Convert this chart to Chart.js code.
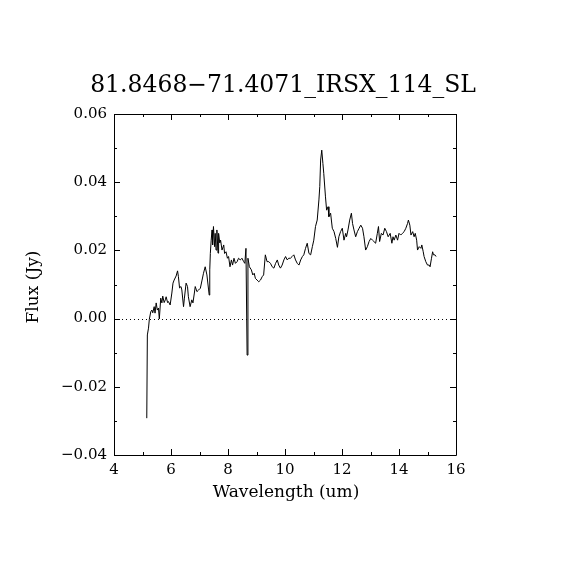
<!DOCTYPE html>
<html>
<head>
<meta charset="utf-8">
<script src="https://cdn.jsdelivr.net/npm/chart.js@4/dist/chart.umd.min.js"></script>
<style>
  body { margin: 0; background: #fff; }
  canvas { display: block; }
</style>
</head>
<body>
<canvas id="spec" width="570" height="570"></canvas>
<script>
const title = "81.8468\u221271.4071_IRSX_114_SL";
const xLabel = "Wavelength (um)";
const yLabel = "Flux (Jy)";

// spectrum
const wavelength = [
  5.15, 5.17, 5.21, 5.24, 5.29, 5.33, 5.36, 5.41, 5.44, 5.48,
  5.52, 5.56, 5.59, 5.64, 5.68, 5.71, 5.76, 5.80, 5.83, 5.88,
  5.91, 5.97, 6.03, 6.07, 6.11, 6.18, 6.23, 6.26, 6.30, 6.35,
  6.38, 6.44, 6.47, 6.53, 6.58, 6.61, 6.67, 6.73, 6.77, 6.82,
  6.85, 6.91, 6.97, 7.03, 7.09, 7.14, 7.20, 7.26, 7.32, 7.34,
  7.36, 7.38, 7.41, 7.44, 7.46, 7.49, 7.53, 7.55, 7.58, 7.61,
  7.65, 7.67, 7.71, 7.74, 7.79, 7.85, 7.88, 7.93, 7.98, 8.02,
  8.07, 8.12, 8.16, 8.21, 8.26, 8.32, 8.37, 8.43, 8.49, 8.55,
  8.59, 8.63, 8.67, 8.70, 8.75, 8.82, 8.87, 8.92, 8.96, 9.02,
  9.08, 9.14, 9.20, 9.25, 9.31, 9.37, 9.43, 9.49, 9.55, 9.61,
  9.67, 9.73, 9.78, 9.84, 9.90, 9.96, 10.02, 10.08, 10.13, 10.19,
  10.25, 10.31, 10.37, 10.43, 10.49, 10.55, 10.61, 10.66, 10.72, 10.78,
  10.84, 10.90, 10.96, 11.01, 11.07, 11.13, 11.19, 11.22, 11.25, 11.29,
  11.33, 11.36, 11.42, 11.46, 11.51, 11.54, 11.60, 11.66, 11.72, 11.78,
  11.84, 11.89, 11.95, 12.01, 12.07, 12.13, 12.16, 12.21, 12.27, 12.33,
  12.37, 12.42, 12.48, 12.54, 12.60, 12.66, 12.72, 12.77, 12.83, 12.89,
  12.95, 13.01, 13.07, 13.12, 13.18, 13.24, 13.28, 13.32, 13.38, 13.44,
  13.50, 13.56, 13.62, 13.69, 13.75, 13.79, 13.83, 13.89, 13.95, 14.00,
  14.06, 14.12, 14.18, 14.24, 14.30, 14.33, 14.38, 14.42, 14.48, 14.53,
  14.57, 14.62, 14.65, 14.71, 14.77, 14.80, 14.85, 14.88, 14.94, 15.00,
  15.06, 15.09, 15.14, 15.18, 15.21, 15.26, 15.30
];
const flux = [
  -0.0292, -0.0048, -0.0028, -0.0002, 0.0020, 0.0025, 0.0017, 0.0035, 0.0016, 0.0046,
  0.0025, 0.0031, -0.0001, 0.0060, 0.0046, 0.0066, 0.0047, 0.0055, 0.0064, 0.0047,
  0.0050, 0.0040, 0.0075, 0.0104, 0.0113, 0.0125, 0.0140, 0.0123, 0.0090, 0.0094,
  0.0084, 0.0035, 0.0060, 0.0104, 0.0094, 0.0064, 0.0035, 0.0055, 0.0046, 0.0075,
  0.0094, 0.0079, 0.0084, 0.0089, 0.0113, 0.0133, 0.0152, 0.0128, 0.0084, 0.0069,
  0.0143, 0.0191, 0.0230, 0.0260, 0.0216, 0.0270, 0.0211, 0.0250, 0.0201, 0.0260,
  0.0192, 0.0250, 0.0222, 0.0230, 0.0201, 0.0216, 0.0191, 0.0196, 0.0177, 0.0182,
  0.0152, 0.0172, 0.0157, 0.0177, 0.0162, 0.0167, 0.0177, 0.0172, 0.0177, 0.0167,
  0.0162, 0.0206, -0.0107, 0.0177, 0.0152, 0.0143, 0.0128, 0.0133, 0.0118, 0.0113,
  0.0108, 0.0113, 0.0123, 0.0128, 0.0187, 0.0167, 0.0167, 0.0162, 0.0152, 0.0148,
  0.0162, 0.0172, 0.0157, 0.0148, 0.0157, 0.0172, 0.0182, 0.0172, 0.0177, 0.0177,
  0.0182, 0.0187, 0.0172, 0.0162, 0.0157, 0.0172, 0.0182, 0.0187, 0.0206, 0.0221,
  0.0191, 0.0187, 0.0211, 0.0230, 0.0270, 0.0289, 0.0348, 0.0387, 0.0465, 0.0494,
  0.0455, 0.0426, 0.0357, 0.0318, 0.0328, 0.0299, 0.0309, 0.0265, 0.0255, 0.0235,
  0.0209, 0.0240, 0.0255, 0.0265, 0.0230, 0.0250, 0.0240, 0.0260, 0.0289, 0.0309,
  0.0279, 0.0260, 0.0240, 0.0255, 0.0265, 0.0274, 0.0265, 0.0240, 0.0201, 0.0211,
  0.0226, 0.0235, 0.0230, 0.0226, 0.0221, 0.0250, 0.0270, 0.0226, 0.0250, 0.0245,
  0.0265, 0.0255, 0.0240, 0.0250, 0.0221, 0.0240, 0.0230, 0.0245, 0.0230, 0.0250,
  0.0245, 0.0250, 0.0255, 0.0265, 0.0279, 0.0289, 0.0274, 0.0245, 0.0255, 0.0240,
  0.0250, 0.0230, 0.0201, 0.0211, 0.0206, 0.0216, 0.0196, 0.0182, 0.0167, 0.0157,
  0.0157, 0.0152, 0.0177, 0.0196, 0.0187, 0.0187, 0.0182
];

const xRange = [4, 16];
const yRange = [-0.04, 0.06];
const xMajor = 2, xMinor = 1;
const yMajor = 0.02, yMinor = 0.01;

const FONT = "'DejaVu Serif', 'Liberation Serif', serif";

function fmtY(v) {
  if (Math.abs(v) < 1e-9) return "0.00";
  return v.toFixed(2).replace("-", "\u2212");
}

// frame with inward ticks on all four sides, zero line, titles
const framePlugin = {
  id: "frame",
  beforeDatasetsDraw(chart) {
    const { ctx, chartArea: a, scales } = chart;
    const y0 = Math.round(scales.y.getPixelForValue(0)) + 0.5;
    ctx.save();
    ctx.strokeStyle = "#000";
    ctx.lineWidth = 1;
    ctx.setLineDash([1, 3]);
    ctx.beginPath();
    ctx.moveTo(a.left, y0);
    ctx.lineTo(a.right, y0);
    ctx.stroke();
    ctx.restore();
  },
  afterDraw(chart) {
    const { ctx, chartArea: a, scales } = chart;
    const xs = scales.x, ys = scales.y;
    ctx.save();
    ctx.strokeStyle = "#000";
    ctx.lineWidth = 1;
    ctx.beginPath();
    ctx.rect(a.left + 0.5, a.top + 0.5, a.right - a.left, a.bottom - a.top);
    ctx.stroke();

    ctx.beginPath();
    for (let v = xRange[0]; v <= xRange[1] + 1e-9; v += xMinor) {
      const len = Math.abs(v / xMajor - Math.round(v / xMajor)) < 1e-6 ? 6 : 3;
      const px = Math.round(xs.getPixelForValue(v)) + 0.5;
      ctx.moveTo(px, a.bottom); ctx.lineTo(px, a.bottom - len);
      ctx.moveTo(px, a.top); ctx.lineTo(px, a.top + len);
    }
    for (let i = 0; i <= Math.round((yRange[1] - yRange[0]) / yMinor); i++) {
      const v = yRange[0] + i * yMinor;
      const len = i % 2 === 0 ? 6 : 3;
      const py = Math.round(ys.getPixelForValue(v)) + 0.5;
      ctx.moveTo(a.left, py); ctx.lineTo(a.left + len, py);
      ctx.moveTo(a.right, py); ctx.lineTo(a.right - len, py);
    }
    ctx.stroke();

    ctx.fillStyle = "#000";
    ctx.textAlign = "center";
    ctx.textBaseline = "alphabetic";
    ctx.font = "23.5px " + FONT;
    ctx.fillText(title, 283, 92);

    ctx.font = "17px " + FONT;
    ctx.fillText(xLabel, 286, 497);

    ctx.translate(38, 287);
    ctx.rotate(-Math.PI / 2);
    ctx.fillText(yLabel, 0, 0);
    ctx.restore();
  }
};

new Chart(document.getElementById("spec"), {
  type: "scatter",
  data: {
    datasets: [{
      data: wavelength.map((w, i) => ({ x: w, y: flux[i] })),
      showLine: true,
      borderColor: "#000",
      borderWidth: 1,
      pointRadius: 0,
      tension: 0,
      fill: false
    }]
  },
  options: {
    responsive: false,
    animation: false,
    devicePixelRatio: 1,
    layout: { padding: { top: 114, right: 114, bottom: 0, left: 0 } },
    plugins: { legend: { display: false }, tooltip: { enabled: false } },
    scales: {
      x: {
        type: "linear",
        min: xRange[0],
        max: xRange[1],
        grid: { display: false, drawTicks: false },
        border: { display: false },
        ticks: {
          stepSize: xMajor,
          color: "#000",
          padding: 6,
          maxRotation: 0,
          font: { family: FONT, size: 15 }
        },
        afterFit(scale) { scale.height = 115; }
      },
      y: {
        type: "linear",
        min: yRange[0],
        max: yRange[1],
        grid: { display: false, drawTicks: false },
        border: { display: false },
        ticks: {
          stepSize: yMajor,
          color: "#000",
          padding: 7,
          font: { family: FONT, size: 15 },
          callback: (v) => fmtY(v)
        },
        afterFit(scale) { scale.width = 114; }
      }
    }
  },
  plugins: [framePlugin]
});
</script>
</body>
</html>
